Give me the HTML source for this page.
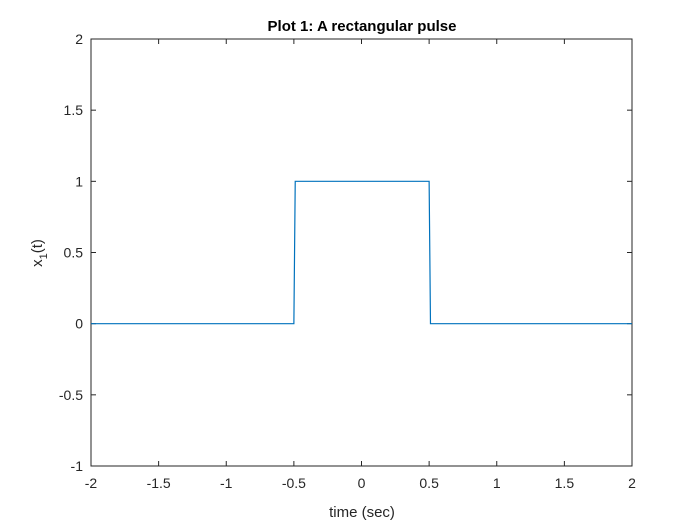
<!DOCTYPE html>
<html><head><meta charset="utf-8"><style>
body{margin:0;background:#fff;}
svg{display:block;font-family:"Liberation Sans",Arial,sans-serif;}
</style></head><body>
<svg id="chart" width="700" height="525">
<rect width="700" height="525" fill="#fff"/>
<g id="axes"></g>
<text x="362" y="31" text-anchor="middle" font-size="15" font-weight="bold" fill="#000">Plot 1: A rectangular pulse</text>
<text x="362" y="517" text-anchor="middle" font-size="15" fill="#262626">time (sec)</text>
<text transform="translate(42,253) rotate(-90)" text-anchor="middle" font-size="15" fill="#262626">x<tspan font-size="11" dy="5">1</tspan><tspan dy="-5">(t)</tspan></text>
</svg>
<script>
const tVals=[-2,-0.5,-0.49,0.5,0.51,2];
const xVals=[0,0,1,1,0,0];
const xTicks=[-2,-1.5,-1,-0.5,0,0.5,1,1.5,2];
const yTicks=[-1,-0.5,0,0.5,1,1.5,2];
const L=91,R=632,T=39,B=466;
const sx=v=>L+(v+2)/4*(R-L);
const sy=v=>B-(v+1)/3*(B-T);
const NS="http://www.w3.org/2000/svg";
const g=document.getElementById('axes');
function mk(tag,attrs){const e=document.createElementNS(NS,tag);for(const k in attrs)e.setAttribute(k,attrs[k]);g.appendChild(e);return e;}
xTicks.forEach(v=>{const x=sx(v);
 const a=mk('line',{x1:x,x2:x,y1:B,y2:B-5,stroke:'#262626'});
 
 
 const b=mk('line',{x1:x,x2:x,y1:T,y2:T+5,stroke:'#262626'});
 
 
 const t=mk('text',{x:x,y:B+22,'text-anchor':'middle','font-size':14,fill:'#262626'});t.textContent=String(v);
 
 
});
yTicks.forEach(v=>{const y=sy(v);
 const a=mk('line',{x1:L,x2:L+5,y1:y,y2:y,stroke:'#262626'});
 
 
 const b=mk('line',{x1:R,x2:R-5,y1:y,y2:y,stroke:'#262626'});
 
 
 const t=mk('text',{x:L-8,y:y+5,'text-anchor':'end','font-size':14,fill:'#262626'});t.textContent=String(v);
 
 
});
const box=mk('rect',{x:L,y:T,width:R-L,height:B-T,fill:'none',stroke:'#262626','stroke-width':1});


const pts=tVals.map((t,i)=>sx(t)+','+sy(xVals[i])).join(' ');
const line=mk('polyline',{points:pts,fill:'none',stroke:'#0072BD','stroke-width':1.2});


</script>
</body></html>
